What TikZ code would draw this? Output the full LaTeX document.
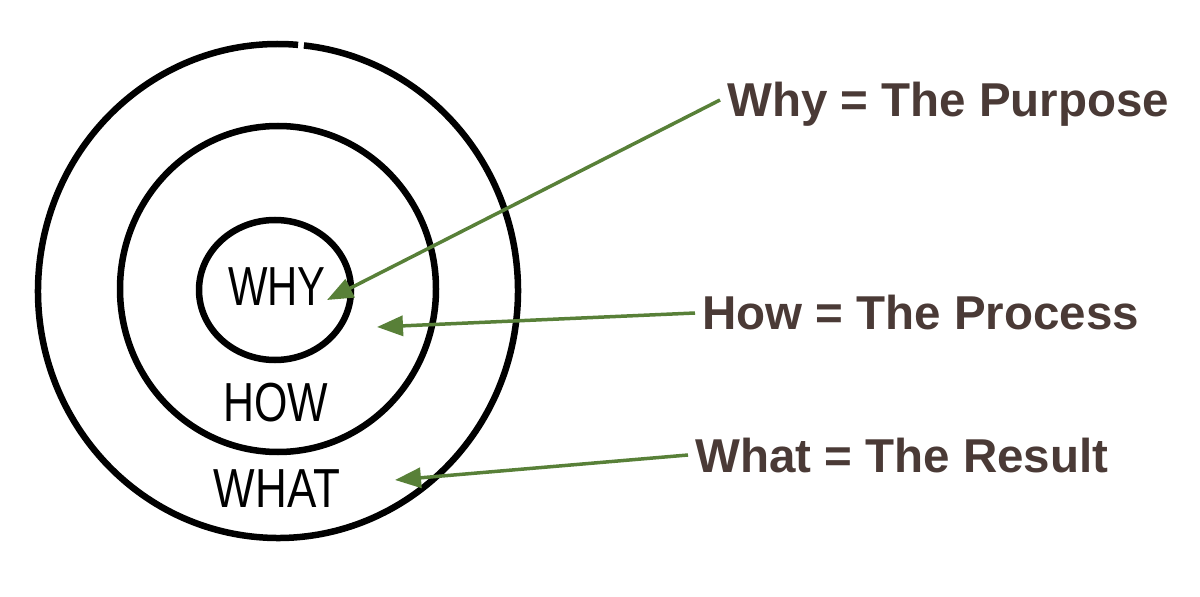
\documentclass[tikz,border=0pt]{standalone}
\usepackage{fontspec}
\setmainfont{Liberation Sans}
\usetikzlibrary{arrows.meta}
\definecolor{arrowgreen}{RGB}{88,128,56}
\definecolor{labelbrown}{RGB}{74,58,54}
\begin{document}
\begin{tikzpicture}[x=1bp,y=-1bp,
  ring/.style={line width=6.5bp, draw=black},
  hand/.style={font=\fontsize{55bp}{55bp}\selectfont, text=black, inner sep=0pt, anchor=base},
  caption/.style={font=\bfseries\fontsize{47.5bp}{50bp}\selectfont, text=labelbrown,
    inner sep=0pt, inner xsep=7bp, text height=34bp, text depth=0bp, anchor=base west},
  pointer/.style={draw=arrowgreen, line width=3.5bp, -{Triangle[length=26bp,width=20bp]}}]
\path[use as bounding box] (0,0) rectangle (1200,597);
% rings
\draw[ring] (278,291) ++(-83.8:240 and 247) arc[start angle=-83.8, end angle=274.8, x radius=240, y radius=247];
\draw[ring] (278,289) ellipse [x radius=158, y radius=163];
\draw[ring] (275,290) ellipse [x radius=76, y radius=70];
% handwritten words
\node[hand] (why) at (277,306) {\scalebox{0.76}[1]{WHY}};
\node[hand] (how) at (276,421) {\scalebox{0.78}[1]{HOW}};
\node[hand] (what) at (277,507) {\scalebox{0.8}[1]{WHAT}};
% captions
\node[caption] (whyT) at (720,117) {Why = The Purpose};
\node[caption] (howT) at (695,330) {How = The Process};
\node[caption] (whatT) at (688,472) {What = The Result};
% arrow tips
\coordinate (whytip) at (327,300);
\coordinate (howtip) at (377,327);
\coordinate (whattip) at (395,480);
\draw[pointer] (whyT.west) -- (whytip);
\draw[pointer] (howT.west) -- (howtip);
\draw[pointer] (whatT.west) -- (whattip);
\end{tikzpicture}
\end{document}
